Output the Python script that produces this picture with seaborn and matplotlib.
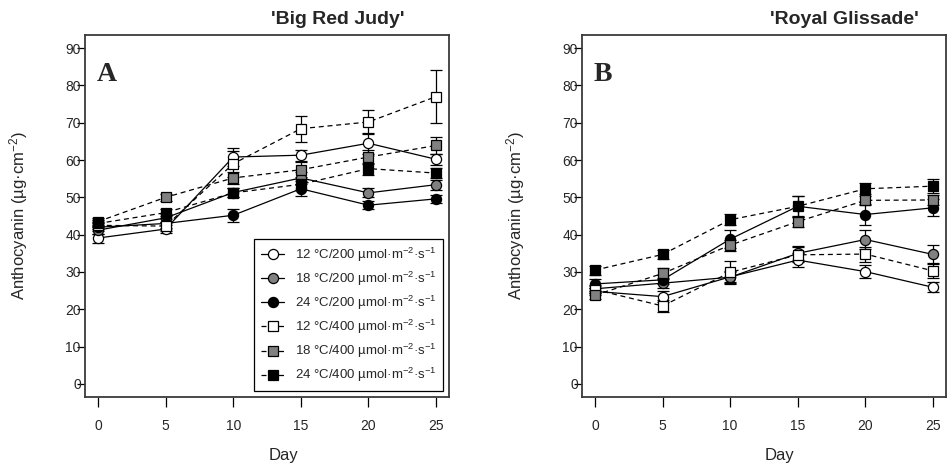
import matplotlib
matplotlib.use("Agg")
import matplotlib.pyplot as plt
import seaborn as sns
import pandas as pd

# Sampling days
days = [0, 5, 10, 15, 20, 25]

# Treatment labels (temperature / photosynthetic photon flux)
labels = [
    r"12 °C/200 µmol·m$^{-2}$·s$^{-1}$",
    r"18 °C/200 µmol·m$^{-2}$·s$^{-1}$",
    r"24 °C/200 µmol·m$^{-2}$·s$^{-1}$",
    r"12 °C/400 µmol·m$^{-2}$·s$^{-1}$",
    r"18 °C/400 µmol·m$^{-2}$·s$^{-1}$",
    r"24 °C/400 µmol·m$^{-2}$·s$^{-1}$",
]

# 'Big Red Judy' anthocyanin means and standard errors
brj_12_200 = [39.1, 41.5, 60.8, 61.3, 64.5, 60.2]
brj_18_200 = [41.2, 44.5, 51.3, 55.2, 51.2, 53.4]
brj_24_200 = [42.0, 43.0, 45.2, 52.3, 47.9, 49.6]
brj_12_400 = [42.5, 42.3, 59.0, 68.4, 70.2, 77.0]
brj_18_400 = [43.5, 50.0, 55.2, 57.4, 60.8, 63.9]
brj_24_400 = [43.0, 45.9, 51.2, 53.5, 57.7, 56.5]

brj_se_12_200 = [1.2, 1.0, 2.5, 1.5, 2.8, 1.5]
brj_se_18_200 = [1.0, 1.0, 1.2, 1.5, 1.2, 1.3]
brj_se_24_200 = [1.0, 1.2, 1.8, 2.0, 1.0, 1.0]
brj_se_12_400 = [1.0, 1.2, 3.5, 3.5, 3.1, 7.2]
brj_se_18_400 = [1.0, 1.0, 1.5, 2.0, 1.8, 2.4]
brj_se_24_400 = [1.0, 1.0, 1.2, 1.5, 1.6, 1.3]

# 'Royal Glissade' anthocyanin means and standard errors
rg_12_200 = [24.8, 23.4, 28.7, 33.2, 30.1, 25.9]
rg_18_200 = [25.5, 27.0, 28.6, 35.0, 38.7, 34.7]
rg_24_200 = [26.8, 27.9, 38.8, 47.6, 45.4, 47.2]
rg_12_400 = [25.3, 20.9, 29.9, 34.6, 34.8, 30.3]
rg_18_400 = [23.8, 29.6, 37.2, 43.5, 49.2, 49.3]
rg_24_400 = [30.5, 34.7, 44.0, 47.6, 52.3, 53.0]

rg_se_12_200 = [1.0, 1.5, 1.5, 1.8, 1.8, 1.3]
rg_se_18_200 = [1.0, 1.3, 1.5, 2.0, 2.5, 2.5]
rg_se_24_200 = [1.2, 1.2, 2.5, 2.8, 2.8, 2.3]
rg_se_12_400 = [1.0, 1.5, 3.0, 2.0, 2.0, 2.0]
rg_se_18_400 = [1.0, 1.5, 1.5, 1.5, 1.2, 1.3]
rg_se_24_400 = [1.2, 1.3, 1.5, 2.8, 1.5, 1.8]

yticks = [0, 10, 20, 30, 40, 50, 60, 70, 80, 90]
xticks = [0, 5, 10, 15, 20, 25]

GRAY = "#808080"
styles = [
    dict(marker="o", mfc="white", ls="-"),
    dict(marker="o", mfc=GRAY, ls="-"),
    dict(marker="o", mfc="black", ls="-"),
    dict(marker="s", mfc="white", ls=(0, (4, 3))),
    dict(marker="s", mfc=GRAY, ls=(0, (4, 3))),
    dict(marker="s", mfc="black", ls=(0, (4, 3))),
]

panels = [
    dict(letter="A", title="'Big Red Judy'", title_x=0.695,
         means=[brj_12_200, brj_18_200, brj_24_200, brj_12_400, brj_18_400, brj_24_400],
         errs=[brj_se_12_200, brj_se_18_200, brj_se_24_200, brj_se_12_400, brj_se_18_400, brj_se_24_400],
         legend=True),
    dict(letter="B", title="'Royal Glissade'", title_x=0.722,
         means=[rg_12_200, rg_18_200, rg_24_200, rg_12_400, rg_18_400, rg_24_400],
         errs=[rg_se_12_200, rg_se_18_200, rg_se_24_200, rg_se_12_400, rg_se_18_400, rg_se_24_400],
         legend=False),
]

sns.set_theme(style="ticks")
plt.rcParams["font.family"] = ["Liberation Sans", "DejaVu Sans"]
plt.rcParams["mathtext.default"] = "regular"

fig = plt.figure(figsize=(9.52, 4.70), dpi=100)
axes = [fig.add_axes([0.0893, 0.1553, 0.3824, 0.7702]),
        fig.add_axes([0.6113, 0.1553, 0.3824, 0.7702])]

for ax, p in zip(axes, panels):
    for lab, m, e, st in zip(labels, p["means"], p["errs"], styles):
        df = pd.DataFrame({"Day": days, "Anthocyanin": m})
        ax.errorbar(days, m, yerr=e, fmt="none", ecolor="black",
                    elinewidth=0.9, capsize=4, capthick=0.9, zorder=2)
        sns.lineplot(data=df, x="Day", y="Anthocyanin", ax=ax,
                     color="black", linestyle=st["ls"], linewidth=0.9,
                     marker=st["marker"], markersize=7.3,
                     markerfacecolor=st["mfc"], markeredgecolor="black",
                     markeredgewidth=0.9, label=lab, legend=False, zorder=3)

    ax.set_xlim(-0.96, 25.96)
    ax.set_ylim(-3.5, 93.5)
    ax.set_xticks(xticks)
    ax.set_yticks(yticks)
    ax.tick_params(axis="y", direction="out", length=6, width=0.9, pad=-3,
                   labelsize=10, color="black")
    ax.tick_params(axis="x", direction="out", length=7, width=0.9, pad=9,
                   labelsize=10, color="black")
    for s in ax.spines.values():
        s.set_visible(True)
        s.set_linewidth(1.3)
        s.set_color("#3a3a3a")

    ax.set_xlabel("Day", fontsize=12)
    ax.xaxis.set_label_coords(0.544, -0.142)
    ax.set_ylabel(r"Anthocyanin (µg·cm$^{-2}$)", fontsize=12)
    ax.yaxis.set_label_coords(-0.152, 0.5)

    ax.text(p["title_x"], 1.042, p["title"], transform=ax.transAxes,
            ha="center", va="center", fontsize=14, fontweight="bold")
    ax.text(0.033, 0.925, p["letter"], transform=ax.transAxes,
            ha="left", va="top", fontsize=20, fontweight="bold",
            family="Liberation Serif")

    if p["legend"]:
        leg = ax.legend(loc="lower right", bbox_to_anchor=(0.984, 0.017),
                        fontsize=9.5, frameon=True, fancybox=False,
                        edgecolor="black", framealpha=1, handlelength=1.8,
                        handletextpad=0.8, labelspacing=0.45,
                        borderpad=0.5, borderaxespad=0)
        leg.get_frame().set_linewidth(0.9)

fig.savefig("out.png", dpi=100, facecolor="white")
